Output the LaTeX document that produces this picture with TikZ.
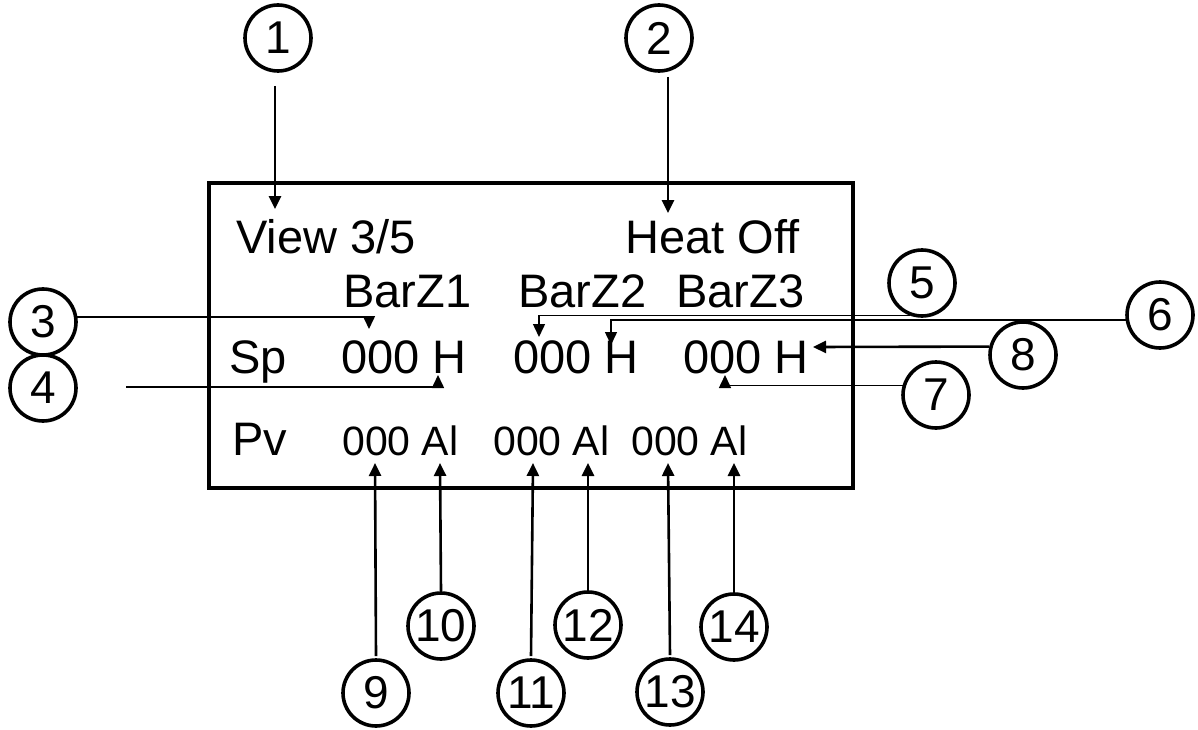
\documentclass[tikz,border=0pt]{standalone}
\usepackage{fontspec}
\setmainfont{Liberation Sans}
\usetikzlibrary{arrows.meta}
\begin{document}
\begin{tikzpicture}[x=1pt,y=-1pt,
  num/.style={draw,circle,line width=3.6pt,minimum size=66pt,inner sep=0pt,font=\fontsize{46}{50}\selectfont},
  lbl/.style={anchor=base west,inner sep=0pt,font=\fontsize{47}{50}\selectfont},
  lblsm/.style={anchor=base west,inner sep=0pt,font=\fontsize{41}{44}\selectfont},
  tip/.style={-{Triangle[length=13pt,width=12pt]}},
  thick arr/.style={tip,line width=2.6pt},
  thin arr/.style={tip,line width=1.5pt},
  box/.style={draw,line width=3.2pt}]
\useasboundingbox (0,0) rectangle (1198,730);
% display box
\draw[box] (209,183) rectangle (853,488);
% texts
\node[lbl] (view) at (236,253) {View 3/5};
\node[lbl] (heat) at (625,253) {Heat Off};
\node[lbl] (bz1) at (343,307) {BarZ1};
\node[lbl] (bz2) at (518,307) {BarZ2};
\node[lbl] (bz3) at (676,307) {BarZ3};
\node[lbl] (sp) at (229,373) {Sp};
\node[lbl] (sp1) at (341,373) {000 H};
\node[lbl] (sp2) at (513,373) {000 H};
\node[lbl] (sp3) at (683,373) {000 H};
\node[lbl] (pv) at (232,455) {Pv};
\node[lblsm] (pv1) at (342,455) {000 Al};
\node[lblsm] (pv2) at (493,455) {000 Al};
\node[lblsm] (pv3) at (631,455) {000 Al};
% numbered circles
\node[num] (c1) at (278,38) {1};
\node[num] (c2) at (659,38) {2};
\node[num] (c3) at (43,322) {3};
\node[num] (c4) at (43,388) {4};
\node[num] (c5) at (922,283) {5};
\node[num] (c6) at (1160,315) {6};
\node[num] (c7) at (936,395) {7};
\node[num] (c8) at (1023,355) {8};
\node[num] (c9) at (376,693) {9};
\node[num] (c10) at (441,626) {10};
\node[num] (c11) at (531,693) {11};
\node[num] (c12) at (588,625) {12};
\node[num] (c13) at (670,692) {13};
\node[num] (c14) at (734,627) {14};
% arrow tips and free ends
\coordinate (s1) at (275,86);  \coordinate (t1) at (275,209);
\coordinate (s2) at (668,77);  \coordinate (t2) at (668,213);
\coordinate (t3) at (369,329);
\coordinate (s4) at (126,387); \coordinate (t4) at (438,375);
\coordinate (t5) at (539,337);
\coordinate (t6) at (611,345);
\coordinate (t7) at (725,375);
\coordinate (t8) at (813,347);
\coordinate (t9) at (375,463);
\coordinate (t10) at (440,463);
\coordinate (t11) at (533,463);
\coordinate (t12) at (588,463);
\coordinate (t13) at (668,463);
\coordinate (t14) at (734,463);
% connectors
\draw[thick arr] (s1) -- (t1);
\draw[thick arr] (s2) -- (t2);
\draw[thin arr] (c3.8) -| (t3);
\draw[thin arr] (s4) -| (t4);
\draw[thin arr] (c5.250) -| (t5);
\draw[thin arr] (c6.188) -| (t6);
\draw[thin arr] (c7.164) -| (t7);
\draw[thick arr] (c8.166) -- (t8);
\draw[thick arr] ([yshift=2pt]c9.north) -- (t9);
\draw[thick arr] (c10.north) -- (t10);
\draw[thick arr] ([yshift=2pt]c11.north) -- (t11);
\draw[thick arr] (c12.north) -- (t12);
\draw[thick arr] ([yshift=2pt]c13.north) -- (t13);
\draw[thick arr] (c14.north) -- (t14);
\end{tikzpicture}
\end{document}
